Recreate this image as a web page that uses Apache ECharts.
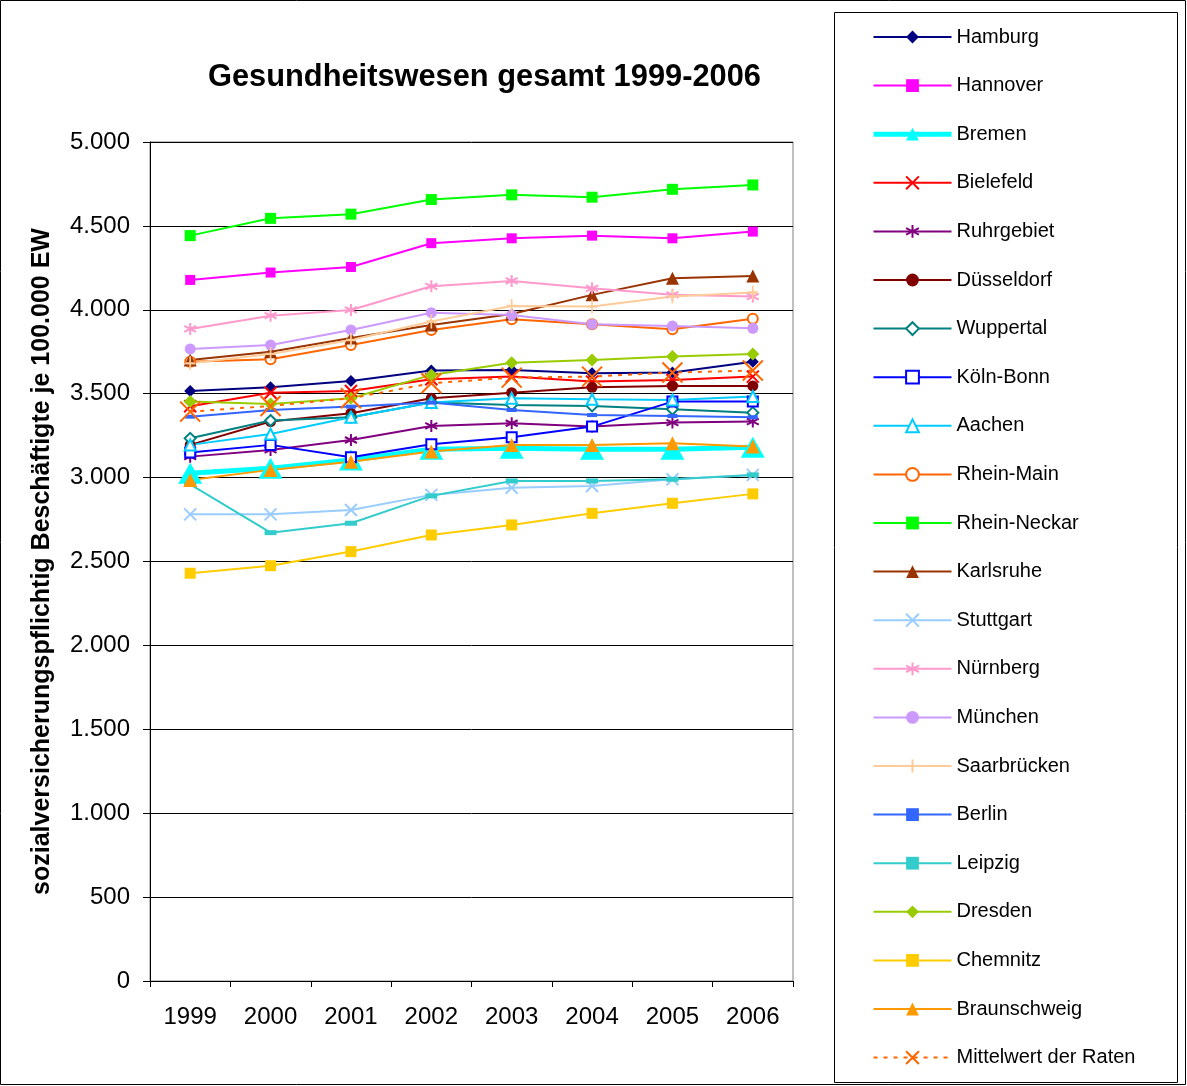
<!DOCTYPE html>
<html>
<head>
<meta charset="utf-8">
<script src="https://cdn.jsdelivr.net/npm/echarts@6/dist/echarts.min.js"></script>
<style>
  html, body { margin: 0; padding: 0; background: #fff; }
  #main { width: 1187px; height: 1086px; }
</style>
</head>
<body>
<div id="main"></div>
<script>
// Jahre (x-Achse)
const years = ['1999', '2000', '2001', '2002', '2003', '2004', '2005', '2006'];

// Beschäftigte je 100.000 EW
const hamburg      = [3516, 3538, 3576, 3638, 3641, 3622, 3626, 3691];
const hannover     = [4178, 4222, 4255, 4397, 4426, 4442, 4426, 4466];
const bremen       = [3026, 3056, 3105, 3169, 3175, 3169, 3169, 3181];
const bielefeld    = [3425, 3506, 3516, 3586, 3602, 3572, 3582, 3602];
const ruhrgebiet   = [3125, 3165, 3224, 3308, 3324, 3304, 3328, 3334];
const duesseldorf  = [3195, 3334, 3384, 3473, 3506, 3538, 3546, 3546];
const wuppertal    = [3234, 3340, 3360, 3447, 3433, 3427, 3407, 3387];
const koelnBonn    = [3149, 3195, 3121, 3199, 3240, 3304, 3453, 3453];
const aachen       = [3195, 3260, 3360, 3447, 3473, 3467, 3463, 3483];
const rheinMain    = [3691, 3705, 3790, 3880, 3943, 3914, 3884, 3947];
const rheinNeckar  = [4442, 4545, 4570, 4657, 4685, 4671, 4718, 4744];
const karlsruhe    = [3701, 3750, 3832, 3910, 3975, 4089, 4188, 4202];
const stuttgart    = [2781, 2781, 2807, 2897, 2940, 2950, 2990, 3016];
const nuernberg    = [3886, 3965, 3999, 4140, 4172, 4128, 4089, 4079];
const muenchen     = [3767, 3790, 3880, 3983, 3969, 3914, 3904, 3890];
const saarbruecken = [3681, 3737, 3820, 3930, 4023, 4019, 4079, 4103];
const berlin       = [3363, 3403, 3423, 3447, 3403, 3373, 3367, 3360];
const leipzig      = [2960, 2672, 2728, 2891, 2980, 2980, 2990, 3016];
const dresden      = [3453, 3439, 3473, 3612, 3685, 3701, 3721, 3737];
const chemnitz     = [2430, 2475, 2559, 2658, 2718, 2787, 2847, 2903];
const braunschweig = [2986, 3046, 3095, 3155, 3195, 3195, 3205, 3185];
const mittelwert   = [3393, 3427, 3473, 3562, 3596, 3602, 3626, 3638];

// Markerformen
const X_MARK = 'path://M0,0L10,10M10,0L0,10';
const STAR_MARK = 'path://M5,0L5,10M0.7,2.5L9.3,7.5M0.7,7.5L9.3,2.5';
const PLUS_MARK = 'path://M5,0L5,10M2,5L8,5';

const FONT = '"Liberation Sans", Arial, sans-serif';

function line(name, data, color, symbol, size, opts) {
  opts = opts || {};
  const s = {
    name: name,
    type: 'line',
    data: data,
    symbol: symbol,
    symbolSize: size,
    color: color,
    lineStyle: { color: color, width: opts.width || 2, type: opts.dash ? [4, 6] : 'solid' },
    itemStyle: { color: color },
    emphasis: { disabled: true }
  };
  if (opts.stroke) {
    s.itemStyle.borderColor = color;
    s.itemStyle.borderWidth = opts.stroke;
  }
  return s;
}

function thousands(v) {
  if (v < 1000) return String(v);
  return Math.floor(v / 1000) + '.' + String(v % 1000).padStart(3, '0');
}

const seriesList = [
  line('Hamburg', hamburg, '#000080', 'diamond', 12),
  line('Hannover', hannover, '#FF00FF', 'rect', 10),
  line('Bremen', bremen, '#00FFFF', 'triangle', [24, 21], { width: 5 }),
  line('Bielefeld', bielefeld, '#FF0000', X_MARK, 12, { stroke: 2 }),
  line('Ruhrgebiet', ruhrgebiet, '#800080', STAR_MARK, 12, { stroke: 2 }),
  line('Düsseldorf', duesseldorf, '#800000', 'circle', 11),
  line('Wuppertal', wuppertal, '#008080', 'emptyDiamond', 11),
  line('Köln-Bonn', koelnBonn, '#0000FF', 'emptyRect', 10),
  line('Aachen', aachen, '#00CCFF', 'emptyTriangle', 11),
  line('Rhein-Main', rheinMain, '#FF6600', 'emptyCircle', 10),
  line('Rhein-Neckar', rheinNeckar, '#00FF00', 'rect', 11),
  line('Karlsruhe', karlsruhe, '#993300', 'triangle', 13),
  line('Stuttgart', stuttgart, '#99CCFF', X_MARK, 12, { stroke: 2 }),
  line('Nürnberg', nuernberg, '#FF99CC', STAR_MARK, 12, { stroke: 2 }),
  line('München', muenchen, '#CC99FF', 'circle', 11),
  line('Saarbrücken', saarbruecken, '#FFCC99', PLUS_MARK, [10, 14], { stroke: 2 }),
  line('Berlin', berlin, '#3366FF', 'rect', [10, 4]),
  line('Leipzig', leipzig, '#33CCCC', 'rect', [12, 5]),
  line('Dresden', dresden, '#99CC00', 'diamond', 13),
  line('Chemnitz', chemnitz, '#FFCC00', 'rect', 11),
  line('Braunschweig', braunschweig, '#FF9900', 'triangle', 14),
  line('Mittelwert der Raten', mittelwert, '#FF6600', X_MARK, 20, { dash: true, stroke: 2 })
];

// Legende: Bremen mit dicker Linie wie im Diagramm
const legendData = seriesList.map(function (s) {
  if (s.name === 'Bremen') return { name: s.name, lineStyle: { width: 5 } };
  return { name: s.name };
});

const chart = echarts.init(document.getElementById('main'));

const option = {
  animation: false,
  backgroundColor: '#fff',
  textStyle: { fontFamily: FONT },
  title: {
    text: 'Gesundheitswesen gesamt 1999-2006',
    left: 203,
    top: 57,
    textStyle: { fontFamily: FONT, fontSize: 30.8, fontWeight: 'bold', color: '#000' }
  },
  graphic: [
    { type: 'rect', shape: { x: 0.5, y: 0.5, width: 1185, height: 1084 },
      style: { fill: 'none', stroke: '#000', lineWidth: 1 }, silent: true },
    { type: 'rect', shape: { x: 834.5, y: 12.5, width: 343, height: 1070 },
      style: { fill: 'none', stroke: '#000', lineWidth: 1 }, silent: true }
  ],
  legend: {
    orient: 'vertical',
    left: 866,
    top: 22,
    itemWidth: 78,
    itemHeight: 16,
    itemGap: 28.6,
    data: legendData,
    textStyle: { fontFamily: FONT, fontSize: 20, color: '#000', lineHeight: 20 },
    selectedMode: false
  },
  grid: {
    left: 150,
    top: 142,
    right: 394,
    bottom: 105,
    show: true,
    borderColor: '#808080',
    borderWidth: 1
  },
  xAxis: {
    type: 'category',
    data: years,
    boundaryGap: true,
    axisLine: { lineStyle: { color: '#000', width: 1 } },
    axisTick: { show: true, length: 6, lineStyle: { color: '#000' } },
    axisLabel: { fontFamily: FONT, fontSize: 24, color: '#000', margin: 24 },
    splitLine: { show: false }
  },
  yAxis: {
    type: 'value',
    min: 0,
    max: 5000,
    interval: 500,
    name: 'sozialversicherungspflichtig Beschäftigte je 100.000 EW',
    nameLocation: 'middle',
    nameGap: 95,
    nameRotate: 90,
    nameTextStyle: { fontFamily: FONT, fontSize: 25, fontWeight: 'bold', color: '#000' },
    axisLine: { show: true, lineStyle: { color: '#000', width: 1 } },
    axisTick: { show: true, length: 7, lineStyle: { color: '#000' } },
    axisLabel: { fontFamily: FONT, fontSize: 24, color: '#000', margin: 20, formatter: thousands },
    splitLine: { show: true, lineStyle: { color: '#000', width: 1 } }
  },
  series: seriesList
};

chart.setOption(option);
</script>
</body>
</html>
